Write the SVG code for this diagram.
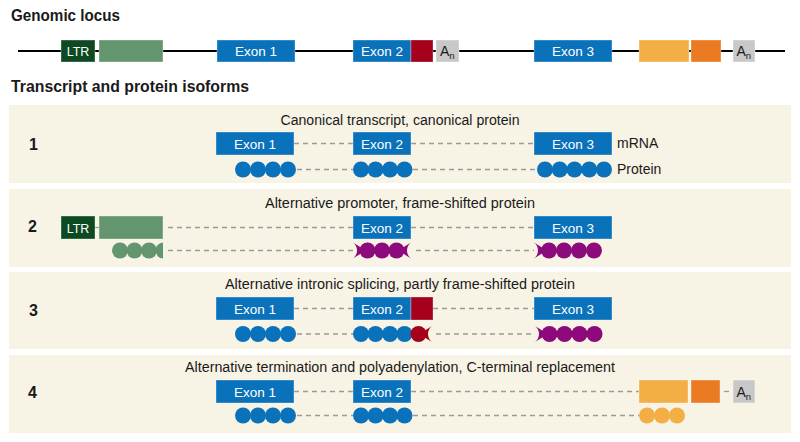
<svg xmlns="http://www.w3.org/2000/svg" width="800" height="442" viewBox="0 0 800 442">
<style>
text{font-family:"Liberation Sans",Arial,sans-serif;fill:#1a1a1a}
.h{font-size:16px;font-weight:bold}
.num{font-size:16px;font-weight:bold}
.t{font-size:14px;text-anchor:middle}
.lbl{font-size:14px}
.bt{font-size:13.5px;fill:#fff;text-anchor:middle}
.an-t{font-size:14px}
.panel{fill:#f7f3e5}
.exon{fill:#0a72ba;stroke:#fff;stroke-opacity:.35;stroke-width:1}
.ltr{fill:#0d4a22;stroke:#fff;stroke-opacity:.35;stroke-width:1}
.lg{fill:#63956f;stroke:#fff;stroke-opacity:.35;stroke-width:1}
.red{fill:#a5001c;stroke:#fff;stroke-opacity:.3;stroke-width:1}
.an{fill:#c8c8c8;stroke:#fff;stroke-opacity:.4;stroke-width:1}
.o1{fill:#f3af46;stroke:#fff;stroke-opacity:.35;stroke-width:1}
.o2{fill:#ea7b22;stroke:#fff;stroke-opacity:.35;stroke-width:1}
.bb{fill:#0a72ba}
.gb{fill:#63956f}
.pb{fill:#8c0a7c}
.rb{fill:#a5001c}
.ob{fill:#f3af46}
.dash{stroke:#9b9b9b;stroke-width:1.3;stroke-dasharray:5 4;fill:none}
.solid{stroke:#9b9b9b;stroke-width:1.3;fill:none}
.locusline{stroke:#000;stroke-width:2.2}
</style>
<defs>
<clipPath id="gclip"><rect x="100" y="230" width="63" height="40"/></clipPath>
</defs>
<rect width="800" height="442" fill="#fff"/>

<text class="h" x="11" y="21" textLength="109" lengthAdjust="spacingAndGlyphs">Genomic locus</text>
<text class="h" x="11" y="92" textLength="238" lengthAdjust="spacingAndGlyphs">Transcript and protein isoforms</text>

<g id="panels">
<rect class="panel" x="9" y="105" width="782" height="78"/>
<rect class="panel" x="9" y="189" width="782" height="78"/>
<rect class="panel" x="9" y="272" width="782" height="77"/>
<rect class="panel" x="9" y="355" width="782" height="78"/>
</g>

<g id="connectors">
<line class="locusline" x1="18" y1="51" x2="785" y2="51"/>
<line class="dash" x1="294" y1="143.5" x2="353" y2="143.5"/>
<line class="dash" x1="411" y1="143.5" x2="534" y2="143.5"/>
<line class="dash" x1="297" y1="169.5" x2="353" y2="169.5"/>
<line class="dash" x1="413" y1="169.5" x2="537" y2="169.5"/>
<line class="solid" x1="95" y1="227.5" x2="99" y2="227.5"/>
<line class="dash" x1="168" y1="227.5" x2="353" y2="227.5"/>
<line class="dash" x1="411" y1="227.5" x2="534" y2="227.5"/>
<line class="dash" x1="168" y1="250.5" x2="353" y2="250.5"/>
<line class="dash" x1="416" y1="250.5" x2="534" y2="250.5"/>
<line class="dash" x1="294" y1="308.5" x2="353" y2="308.5"/>
<line class="dash" x1="433" y1="308.5" x2="534" y2="308.5"/>
<line class="dash" x1="297" y1="334" x2="353" y2="334"/>
<line class="dash" x1="436" y1="334" x2="535" y2="334"/>
<line class="dash" x1="294" y1="391.5" x2="353" y2="391.5"/>
<line class="dash" x1="411" y1="391.5" x2="639" y2="391.5"/>
<line class="solid" x1="724" y1="391.5" x2="729" y2="391.5"/>
<line class="dash" x1="297" y1="415.5" x2="353" y2="415.5"/>
<line class="dash" x1="413" y1="415.5" x2="639" y2="415.5"/>
</g>

<g id="locus">
<g id="locus-ltr"><rect class="ltr" x="61" y="40" width="34" height="22"/><text class="bt" x="78" y="56" style="font-size:12.5px">LTR</text></g>
<g id="locus-ltrexon"><rect class="lg" x="99" y="40" width="64" height="22"/></g>
<g id="locus-exon1"><rect class="exon" x="217" y="40" width="78" height="22"/><text class="bt" x="256" y="56">Exon 1</text></g>
<g id="locus-exon2"><rect class="exon" x="353" y="40" width="58" height="22"/><text class="bt" x="382" y="56">Exon 2</text></g>
<g id="locus-intronic"><rect class="red" x="411" y="40" width="22" height="22"/></g>
<g id="locus-an1"><rect class="an" x="436" y="40" width="23" height="22"/><text class="an-t" x="440" y="56">A<tspan dy="3" style="font-size:9.5px">n</tspan></text></g>
<g id="locus-exon3"><rect class="exon" x="534" y="40" width="78" height="22"/><text class="bt" x="573" y="56">Exon 3</text></g>
<g id="locus-alt1"><rect class="o1" x="639" y="40" width="50" height="22"/></g>
<g id="locus-alt2"><rect class="o2" x="691" y="40" width="30" height="22"/></g>
<g id="locus-an2"><rect class="an" x="733" y="40" width="22" height="22"/><text class="an-t" x="736.5" y="56">A<tspan dy="3" style="font-size:9.5px">n</tspan></text></g>
</g>

<g id="panel1">
<text class="num" x="29" y="150">1</text>
<text class="t" x="400" y="125" textLength="239" lengthAdjust="spacingAndGlyphs">Canonical transcript, canonical protein</text>
<g id="p1-exon1"><rect class="exon" x="216" y="132" width="78" height="23"/><text class="bt" x="255" y="148.5">Exon 1</text></g>
<g id="p1-exon2"><rect class="exon" x="353" y="132" width="58" height="23"/><text class="bt" x="382" y="148.5">Exon 2</text></g>
<g id="p1-exon3"><rect class="exon" x="534" y="132" width="78" height="23"/><text class="bt" x="573" y="148.5">Exon 3</text></g>
<text class="lbl" x="617" y="148">mRNA</text>
<g id="p1-prot1" class="bb"><circle cx="243" cy="169.5" r="8"/><circle cx="258" cy="169.5" r="8"/><circle cx="273" cy="169.5" r="8"/><circle cx="288" cy="169.5" r="8"/></g>
<g id="p1-prot2" class="bb"><circle cx="361" cy="169.5" r="8"/><circle cx="375.5" cy="169.5" r="8"/><circle cx="390" cy="169.5" r="8"/><circle cx="404.5" cy="169.5" r="8"/></g>
<g id="p1-prot3" class="bb"><circle cx="545" cy="169.5" r="8"/><circle cx="559.75" cy="169.5" r="8"/><circle cx="574.5" cy="169.5" r="8"/><circle cx="589.25" cy="169.5" r="8"/><circle cx="604" cy="169.5" r="8"/></g>
<text class="lbl" x="617" y="174">Protein</text>
</g>

<g id="panel2">
<text class="num" x="28" y="232">2</text>
<text class="t" x="400" y="207.5" textLength="270" lengthAdjust="spacingAndGlyphs">Alternative promoter, frame-shifted protein</text>
<g id="p2-ltr"><rect class="ltr" x="61" y="216" width="34" height="23"/><text class="bt" x="78" y="232.5" style="font-size:12.5px">LTR</text></g>
<g id="p2-ltrexon"><rect class="lg" x="99" y="216" width="64" height="23"/></g>
<g id="p2-exon2"><rect class="exon" x="353" y="216" width="58" height="23"/><text class="bt" x="382" y="232.5">Exon 2</text></g>
<g id="p2-exon3"><rect class="exon" x="534" y="216" width="78" height="23"/><text class="bt" x="573" y="232.5">Exon 3</text></g>
<g id="p2-prot1" class="gb" clip-path="url(#gclip)"><circle cx="120" cy="250.5" r="8"/><circle cx="134.5" cy="250.5" r="8"/><circle cx="149" cy="250.5" r="8"/><circle cx="163.5" cy="250.5" r="8"/></g>
<g id="p2-prot2" class="pb">
<path d="M353,242.5 A10,10 0 0 1 353,258.5 L361,253.5 L361,247.5 Z"/>
<circle cx="367.5" cy="250.5" r="8"/><circle cx="382" cy="250.5" r="8"/><circle cx="396.5" cy="250.5" r="8"/>
<path d="M411,242.5 A10,10 0 0 0 411,258.5 L403,253.5 L403,247.5 Z"/>
</g>
<g id="p2-prot3" class="pb">
<path d="M534,242.5 A10,10 0 0 1 534,258.5 L542,253.5 L542,247.5 Z"/>
<circle cx="549" cy="250.5" r="8"/><circle cx="564" cy="250.5" r="8"/><circle cx="579" cy="250.5" r="8"/><circle cx="594" cy="250.5" r="8"/>
</g>
</g>

<g id="panel3">
<text class="num" x="29" y="316">3</text>
<text class="t" x="400" y="289" textLength="350" lengthAdjust="spacingAndGlyphs">Alternative intronic splicing, partly frame-shifted protein</text>
<g id="p3-exon1"><rect class="exon" x="216" y="297" width="78" height="23"/><text class="bt" x="255" y="313.5">Exon 1</text></g>
<g id="p3-exon2"><rect class="exon" x="353" y="297" width="58" height="23"/><text class="bt" x="382" y="313.5">Exon 2</text></g>
<g id="p3-intronic"><rect class="red" x="411" y="297" width="22" height="23"/></g>
<g id="p3-exon3"><rect class="exon" x="534" y="297" width="78" height="23"/><text class="bt" x="573" y="313.5">Exon 3</text></g>
<g id="p3-prot1" class="bb"><circle cx="243" cy="334" r="8"/><circle cx="258" cy="334" r="8"/><circle cx="273" cy="334" r="8"/><circle cx="288" cy="334" r="8"/></g>
<g id="p3-prot2" class="bb"><circle cx="361" cy="334" r="8"/><circle cx="375.5" cy="334" r="8"/><circle cx="390" cy="334" r="8"/><circle cx="404.5" cy="334" r="8"/></g>
<g id="p3-prot2b" class="rb"><circle cx="418.5" cy="334" r="8"/><path d="M432,326 A10,10 0 0 0 432,342 L424,337 L424,331 Z"/></g>
<g id="p3-prot3" class="pb">
<path d="M535,326 A10,10 0 0 1 535,342 L543,337 L543,331 Z"/>
<circle cx="549.5" cy="334" r="8"/><circle cx="564.5" cy="334" r="8"/><circle cx="579.5" cy="334" r="8"/><circle cx="594.5" cy="334" r="8"/>
</g>
</g>

<g id="panel4">
<text class="num" x="28" y="398">4</text>
<text class="t" x="400" y="372" textLength="430" lengthAdjust="spacingAndGlyphs">Alternative termination and polyadenylation, C-terminal replacement</text>
<g id="p4-exon1"><rect class="exon" x="216" y="380" width="78" height="23"/><text class="bt" x="255" y="396.5">Exon 1</text></g>
<g id="p4-exon2"><rect class="exon" x="353" y="380" width="58" height="23"/><text class="bt" x="382" y="396.5">Exon 2</text></g>
<g id="p4-alt1"><rect class="o1" x="639" y="380" width="49" height="23"/></g>
<g id="p4-alt2"><rect class="o2" x="691" y="380" width="29" height="23"/></g>
<g id="p4-an"><rect class="an" x="733" y="380" width="22" height="23"/><text class="an-t" x="736.5" y="396.5">A<tspan dy="3" style="font-size:9.5px">n</tspan></text></g>
<g id="p4-prot1" class="bb"><circle cx="243" cy="415.5" r="8"/><circle cx="258" cy="415.5" r="8"/><circle cx="273" cy="415.5" r="8"/><circle cx="288" cy="415.5" r="8"/></g>
<g id="p4-prot2" class="bb"><circle cx="361" cy="415.5" r="8"/><circle cx="375.5" cy="415.5" r="8"/><circle cx="390" cy="415.5" r="8"/><circle cx="404.5" cy="415.5" r="8"/></g>
<g id="p4-prot3" class="ob"><circle cx="647" cy="415.5" r="8"/><circle cx="662" cy="415.5" r="8"/><circle cx="677" cy="415.5" r="8"/></g>
</g>
</svg>
